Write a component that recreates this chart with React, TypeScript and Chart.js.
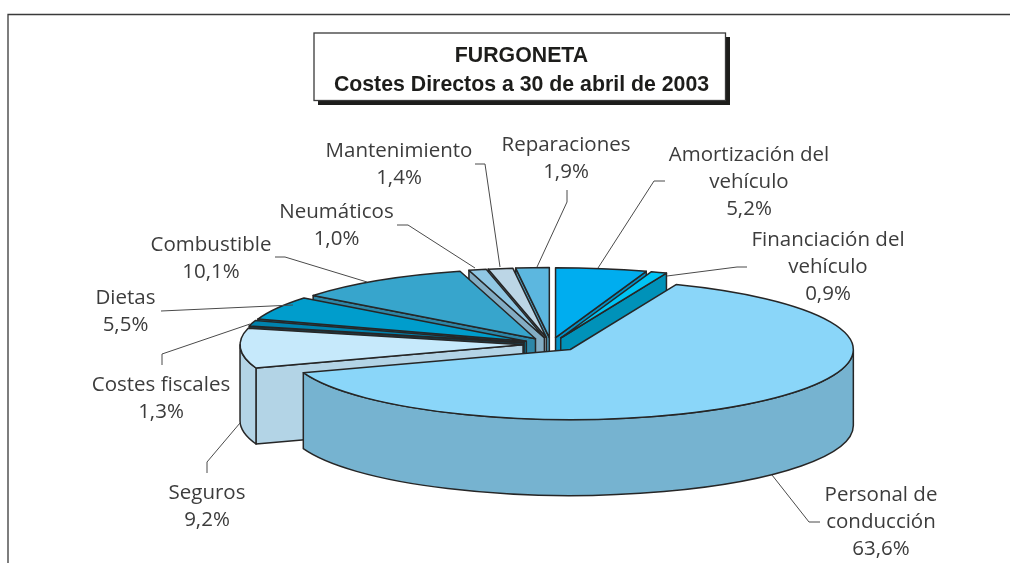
import React, { useEffect, useRef } from "react";
import { Chart, registerables } from "chart.js";

Chart.register(...registerables);

const categories = [
  "Amortización del vehículo",
  "Financiación del vehículo",
  "Personal de conducción",
  "Seguros",
  "Costes fiscales",
  "Dietas",
  "Combustible",
  "Neumáticos",
  "Mantenimiento",
  "Reparaciones",
];
const shares = [5.2, 0.9, 63.6, 9.2, 1.3, 5.5, 10.1, 1.0, 1.4, 1.9];
const topColors = ["#00adef", "#00c4f4", "#8ad6f9", "#c6e9fb", "#0082ad", "#009dcc", "#37a5cc", "#90c7e3", "#bcd6e6", "#5cb7df"];
const sideColors = ["#0092c8", "#0092b9", "#76b3d0", "#b3d4e6", "#1e3a44", "#0080a6", "#2d87a8", "#83adc4", "#9fb8c8", "#4d9abb"];
const titleLines = ["FURGONETA", "Costes Directos a 30 de abril de 2003"];

const labelLines: string[][] = [
  ["Amortización del", "vehículo", "5,2%"],
  ["Financiación del", "vehículo", "0,9%"],
  ["Personal de", "conducción", "63,6%"],
  ["Seguros", "9,2%"],
  ["Costes fiscales", "1,3%"],
  ["Dietas", "5,5%"],
  ["Combustible", "10,1%"],
  ["Neumáticos", "1,0%"],
  ["Mantenimiento", "1,4%"],
  ["Reparaciones", "1,9%"],
];
const labelAnchors: [number, number][] = [
  [749, 155.5], [828, 240.5], [881, 495.5], [207, 493], [161, 385],
  [125.5, 298], [211, 245.5], [336.5, 212], [399, 151.5], [566, 145.5],
];
const leaders: [number, number][][] = [
  [[598, 268], [654, 181], [665, 181]],
  [[667, 276], [737, 267], [747, 267]],
  [[772, 475], [809, 522], [820, 522]],
  [[207, 473], [207, 462], [240, 423]],
  [[162, 365], [162, 354], [250, 324]],
  [[161, 311], [293, 305]],
  [[275, 257], [285, 257], [367, 282]],
  [[397, 225], [408, 225], [475, 268]],
  [[475, 164], [485, 164], [500, 267]],
  [[567, 190], [567, 202], [537, 267]],
];

const RADIUS = 283;
const SQUASH = 70 / 283;
const DEPTH = 76;
const EXPLODE = 28;
const LINE = "#262626";

const piePlugin = {
  id: "tiltedPie",
  beforeDatasetDraw() {
    return false;
  },
  afterDatasetsDraw(chart: any) {
    const ctx: CanvasRenderingContext2D = chart.ctx;
    const arcs = chart.getDatasetMeta(0).data as any[];
    const geo = arcs.map((arc, i) => {
      const mid = (arc.startAngle + arc.endAngle) / 2;
      const ox = Math.cos(mid) * EXPLODE;
      const oy = Math.sin(mid) * EXPLODE;
      return {
        arc,
        i,
        mid,
        a: arc.startAngle,
        b: arc.endAngle,
        ox,
        oy,
        x: arc.x + ox,
        y: arc.y + oy * SQUASH,
        r: arc.outerRadius,
      };
    });
    const rim = (g: any, t: number) => [g.x + Math.cos(t) * g.r, g.y + Math.sin(t) * g.r * SQUASH];
    const order = [...geo].sort((p, q) => p.y - q.y);

    ctx.save();
    ctx.lineWidth = 1.5;
    ctx.lineJoin = "round";
    ctx.strokeStyle = LINE;
    for (const g of order) {
      ctx.fillStyle = sideColors[g.i];
      const face = (t: number) => {
        const [ex, ey] = rim(g, t);
        ctx.beginPath();
        ctx.moveTo(g.x, g.y);
        ctx.lineTo(ex, ey);
        ctx.lineTo(ex, ey + DEPTH);
        ctx.lineTo(g.x, g.y + DEPTH);
        ctx.closePath();
        ctx.fill();
        ctx.stroke();
      };
      if (Math.cos(g.a) < 0) face(g.a);
      if (Math.cos(g.b) > 0) face(g.b);
      // outer wall: the part of the rim on the near side (0..PI)
      const windows = [[0, Math.PI], [2 * Math.PI, 3 * Math.PI]];
      for (const [lo, hi] of windows) {
        const s = Math.max(g.a, lo);
        const e = Math.min(g.b, hi);
        if (e <= s) continue;
        ctx.beginPath();
        ctx.ellipse(g.x, g.y, g.r, g.r * SQUASH, 0, s, e);
        ctx.ellipse(g.x, g.y + DEPTH, g.r, g.r * SQUASH, 0, e, s, true);
        ctx.closePath();
        ctx.fill();
        ctx.stroke();
      }
    }
    // top faces: filled by the library's own arc elements under a tilted transform
    for (const g of order) {
      ctx.save();
      ctx.translate(g.arc.x, g.arc.y);
      ctx.scale(1, SQUASH);
      ctx.translate(-g.arc.x + g.ox, -g.arc.y + g.oy);
      g.arc.draw(ctx);
      ctx.restore();
      ctx.beginPath();
      ctx.moveTo(g.x, g.y);
      ctx.ellipse(g.x, g.y, g.r, g.r * SQUASH, 0, g.a, g.b);
      ctx.closePath();
      ctx.stroke();
    }
    ctx.restore();
  },
  afterDraw(chart: any) {
    const ctx: CanvasRenderingContext2D = chart.ctx;
    ctx.save();
    // outer frame
    ctx.strokeStyle = "#3a3a3a";
    ctx.lineWidth = 1.3;
    ctx.beginPath();
    ctx.moveTo(8, 563);
    ctx.lineTo(8, 14.5);
    ctx.lineTo(1010, 14.5);
    ctx.stroke();
    // title box
    ctx.fillStyle = "#1d1d1b";
    ctx.fillRect(318, 37, 412, 68);
    ctx.fillStyle = "#ffffff";
    ctx.fillRect(314, 33, 411.5, 67.5);
    ctx.strokeStyle = "#3a3a3a";
    ctx.strokeRect(314, 33, 411.5, 67.5);
    ctx.fillStyle = "#1d1d1b";
    ctx.textAlign = "center";
    ctx.textBaseline = "middle";
    ctx.font = 'bold 21.3px "Liberation Sans"';
    ctx.fillText(titleLines[0], 521.5, 56.5);
    ctx.fillText(titleLines[1], 521.5, 85);
    // leaders
    ctx.strokeStyle = "#4a4a4a";
    ctx.lineWidth = 1;
    for (const pts of leaders) {
      ctx.beginPath();
      pts.forEach(([x, y], i) => (i ? ctx.lineTo(x, y) : ctx.moveTo(x, y)));
      ctx.stroke();
    }
    // labels
    ctx.fillStyle = "#3c3c3c";
    ctx.font = '400 20.5px "Open Sans"';
    labelLines.forEach((lines, i) => {
      const [x, y] = labelAnchors[i];
      lines.forEach((t, k) => ctx.fillText(t, x, y + k * 26.7));
    });
    ctx.restore();
  },
};

export default function App() {
  const ref = useRef<HTMLCanvasElement>(null);
  useEffect(() => {
    const chart = new Chart(ref.current!, {
      type: "pie",
      data: {
        labels: categories,
        datasets: [{ data: shares, backgroundColor: topColors, borderWidth: 0, clip: false } as any],
      },
      options: {
        responsive: false,
        animation: false,
        radius: RADIUS,
        layout: { padding: { left: 92, top: 126, right: 0, bottom: 0 } },
        plugins: { legend: { display: false }, tooltip: { enabled: false } },
      } as any,
      plugins: [piePlugin],
    });
    return () => chart.destroy();
  }, []);
  return (
    <canvas
      ref={ref}
      width={1010}
      height={563}
      style={{ position: "absolute", left: 0, top: 0, width: 1010, height: 563 }}
    />
  );
}
